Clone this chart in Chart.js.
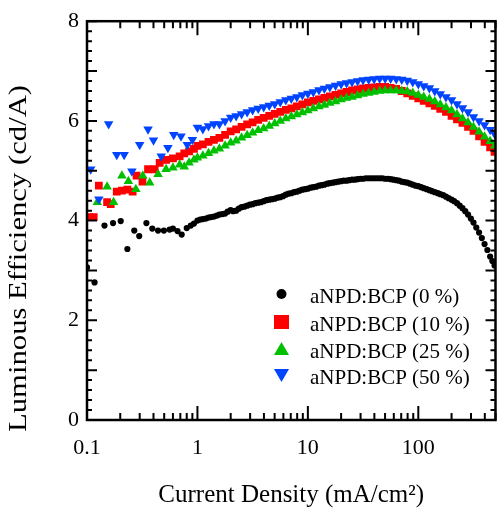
<!DOCTYPE html>
<html>
<head>
<meta charset="utf-8">
<script src="https://cdn.jsdelivr.net/npm/chart.js@4.4.0/dist/chart.umd.min.js"></script>
<style>
  html, body { margin: 0; padding: 0; background: #fff; }
  #wrap { width: 501px; height: 510px; }
</style>
</head>
<body>
<div id="wrap"><canvas id="grafico" width="501" height="510"></canvas></div>
<script>
// series labels and tick labels
const seriesLabels = ['aNPD:BCP (0 %)', 'aNPD:BCP (10 %)', 'aNPD:BCP (25 %)', 'aNPD:BCP (50 %)'];
const xTickValues = [0.1, 1, 10, 100];
const xTickLabels = ['0.1', '1', '10', '100'];
const yTickValues = [0, 2, 4, 6, 8];
const xTitle = 'Current Density (mA/cm²)';
const yTitle = 'Luminous Efficiency (cd/A)';

// current density (mA/cm2) shared by the dense part of every curve
const xDense = [
  1.0, 1.12, 1.26, 1.41, 1.58,
  1.78, 2.0, 2.24, 2.51, 2.82,
  3.16, 3.55, 3.98, 4.47, 5.01,
  5.62, 6.31, 7.08, 7.94, 8.91,
  10, 11.2, 12.6, 14.1, 15.8,
  17.8, 20, 22.4, 25.1, 28.2,
  31.6, 35.5, 39.8, 44.7, 50.1,
  56.2, 63.1, 70.8, 79.4, 89.1,
  100, 112, 126, 141, 158,
  178, 200, 224, 251, 282,
  316, 355, 398, 447, 490
];

// 0 %
const blackLowX = [0.1, 0.117, 0.144, 0.172, 0.202, 0.232, 0.268, 0.297, 0.345, 0.39, 0.44, 0.497, 0.56, 0.6, 0.66, 0.72, 0.80, 0.87, 0.93];
const blackLowY = [3.06, 2.76, 3.90, 3.95, 3.99, 3.43, 3.80, 3.69, 3.95, 3.84, 3.80, 3.80, 3.82, 3.84, 3.79, 3.72, 3.85, 3.90, 3.94];
const blackY = [
  4.00, 4.03, 4.06, 4.08, 4.12,
  4.14, 4.21, 4.20, 4.27, 4.30,
  4.33, 4.36, 4.39, 4.42, 4.44,
  4.47, 4.52, 4.55, 4.58, 4.62,
  4.64, 4.67, 4.70, 4.72, 4.75,
  4.77, 4.79, 4.80, 4.82, 4.83,
  4.84, 4.85, 4.85, 4.85, 4.84,
  4.83, 4.81, 4.78, 4.76, 4.72,
  4.69, 4.65, 4.61, 4.57, 4.53,
  4.48, 4.42, 4.35, 4.25, 4.12,
  3.96, 3.76, 3.53, 3.28, 3.10
];
// the 0 % curve is sampled twice as densely, these sit between the xDense points
const blackMidX = [
  1.06, 1.19, 1.33, 1.50, 1.68,
  1.88, 2.11, 2.37, 2.66, 2.99,
  3.35, 3.76, 4.22, 4.73, 5.31,
  5.96, 6.68, 7.50, 8.41, 9.44,
  10.6, 11.9, 13.3, 15.0, 16.8,
  18.8, 21.1, 23.7, 26.6, 29.9,
  33.5, 37.6, 42.2, 47.3, 53.1,
  59.6, 66.8, 75.0, 84.1, 94.4,
  106, 119, 133, 150, 168,
  188, 211, 237, 266, 299,
  335, 376, 422, 468
];
const blackMidY = [
  4.02, 4.04, 4.07, 4.10, 4.13,
  4.18, 4.19, 4.24, 4.28, 4.32,
  4.35, 4.37, 4.41, 4.43, 4.46,
  4.49, 4.54, 4.57, 4.60, 4.63,
  4.66, 4.68, 4.71, 4.74, 4.76,
  4.78, 4.80, 4.81, 4.82, 4.84,
  4.85, 4.85, 4.85, 4.85, 4.84,
  4.82, 4.80, 4.77, 4.74, 4.70,
  4.67, 4.63, 4.59, 4.55, 4.51,
  4.45, 4.39, 4.30, 4.19, 4.04,
  3.86, 3.65, 3.41, 3.19
];

// 10 %
const redLowX = [0.105, 0.115, 0.128, 0.152, 0.164, 0.186, 0.207, 0.232, 0.259, 0.281, 0.318, 0.357, 0.41, 0.455, 0.52, 0.6, 0.69, 0.76, 0.84, 0.93];
const redLowY = [4.07, 4.07, 4.70, 4.37, 4.33, 4.58, 4.60, 4.62, 4.58, 4.90, 4.78, 5.03, 5.03, 5.16, 5.22, 5.25, 5.29, 5.35, 5.39, 5.44];
const redY = [
  5.50, 5.53, 5.58, 5.62, 5.66,
  5.72, 5.79, 5.83, 5.88, 5.93,
  5.97, 6.02, 6.06, 6.10, 6.14,
  6.18, 6.22, 6.25, 6.29, 6.33,
  6.37, 6.40, 6.43, 6.46, 6.49,
  6.52, 6.55, 6.58, 6.61, 6.63,
  6.65, 6.66, 6.67, 6.68, 6.68,
  6.66, 6.64, 6.60, 6.55, 6.50,
  6.45, 6.40, 6.35, 6.30, 6.24,
  6.18, 6.10, 6.03, 5.96, 5.88,
  5.80, 5.69, 5.58, 5.47, 5.38
];

// 25 %
const greenLowX = [0.124, 0.152, 0.174, 0.207, 0.237, 0.277, 0.32, 0.37, 0.44, 0.52, 0.6, 0.69, 0.76, 0.84, 0.93];
const greenLowY = [4.37, 4.68, 4.37, 4.90, 4.79, 4.63, 4.90, 4.76, 4.93, 5.03, 5.06, 5.12, 5.08, 5.16, 5.22];
const greenY = [
  5.26, 5.30, 5.35, 5.40, 5.44,
  5.50, 5.56, 5.60, 5.66, 5.71,
  5.76, 5.81, 5.85, 5.90, 5.95,
  6.00, 6.05, 6.09, 6.13, 6.17,
  6.21, 6.25, 6.29, 6.32, 6.36,
  6.39, 6.43, 6.46, 6.48, 6.51,
  6.54, 6.56, 6.58, 6.60, 6.61,
  6.61, 6.61, 6.60, 6.59, 6.56,
  6.52, 6.48, 6.44, 6.39, 6.33,
  6.27, 6.21, 6.13, 6.05, 5.97,
  5.88, 5.78, 5.68, 5.59, 5.50
];

// 50 %
const blueLowX = [0.108, 0.128, 0.157, 0.186, 0.217, 0.255, 0.30, 0.357, 0.40, 0.47, 0.54, 0.61, 0.71, 0.81, 0.90];
const blueLowY = [5.03, 4.43, 5.94, 5.32, 5.32, 4.99, 5.52, 5.83, 5.61, 5.29, 5.46, 5.72, 5.69, 5.52, 5.62];
const blueY = [
  5.87, 5.84, 5.90, 5.94, 5.94,
  6.00, 6.07, 6.10, 6.14, 6.18,
  6.22, 6.25, 6.28, 6.31, 6.34,
  6.38, 6.42, 6.45, 6.48, 6.52,
  6.55, 6.58, 6.62, 6.65, 6.68,
  6.71, 6.74, 6.76, 6.78, 6.80,
  6.82, 6.83, 6.84, 6.85, 6.85,
  6.85, 6.84, 6.83, 6.81, 6.78,
  6.74, 6.70, 6.66, 6.60, 6.54,
  6.48, 6.42, 6.34, 6.26, 6.18,
  6.08, 6.00, 5.92, 5.82, 5.74
];

const fonte = "'Liberation Serif', 'Times New Roman', serif";
Chart.defaults.font.family = fonte;
Chart.defaults.color = '#000';

function pontos(xs, ys) {
    return xs.map((x, i) => ({ x: x, y: ys[i] }));
}

// box round the plot with inward ticks on all four sides
const molduraPlugin = {
    id: 'moldura',
    afterDraw(chart) {
        const { ctx, chartArea: a, scales: { x, y } } = chart;
        ctx.save();
        ctx.strokeStyle = '#000';
        ctx.lineWidth = 2.5;
        ctx.strokeRect(a.left, a.top, a.right - a.left, a.bottom - a.top);

        ctx.lineWidth = 2;
        ctx.beginPath();
        for (let dec = 0.1; dec < 1000; dec *= 10) {
            for (let m = 1; m <= 9; m++) {
                const v = dec * m;
                if (v < 0.1 * 0.999 || v > 500 * 1.001) continue;
                const px = x.getPixelForValue(v);
                const len = (m === 1) ? 14 : 7;
                ctx.moveTo(px, a.bottom); ctx.lineTo(px, a.bottom - len);
                ctx.moveTo(px, a.top); ctx.lineTo(px, a.top + len);
            }
        }
        for (let k = 0; k <= 40; k++) {
            const py = y.getPixelForValue(k * 0.2);
            const len = (k % 5 === 0) ? 10 : 5;
            ctx.moveTo(a.left, py); ctx.lineTo(a.left + len, py);
            ctx.moveTo(a.right, py); ctx.lineTo(a.right - len, py);
        }
        ctx.stroke();
        ctx.restore();
    }
};

// y title: the original is a bit stretched along its length and sits low
const tituloYPlugin = {
    id: 'tituloY',
    afterDraw(chart) {
        const ctx = chart.ctx;
        ctx.save();
        ctx.translate(19, 432);
        ctx.rotate(-Math.PI / 2);
        ctx.scale(1.18, 1);
        ctx.font = '26px ' + fonte;
        ctx.fillStyle = '#000';
        ctx.textAlign = 'left';
        ctx.textBaseline = 'middle';
        ctx.fillText(yTitle, 0, 0);
        ctx.restore();
    }
};

// legend inside the plot, lower right
const legendaPlugin = {
    id: 'legenda',
    afterDraw(chart) {
        const ctx = chart.ctx;
        const mx = 281.5, tx = 310;
        const linhas = [294, 322, 349, 375];
        ctx.save();
        ctx.font = '21px ' + fonte;
        ctx.textAlign = 'left';
        ctx.textBaseline = 'alphabetic';
        chart.data.datasets.forEach((ds, i) => {
            const cy = linhas[i];
            ctx.fillStyle = ds.pointBackgroundColor;
            ctx.beginPath();
            if (i === 0) {
                ctx.arc(mx, cy, 5, 0, Math.PI * 2);
            } else if (i === 1) {
                ctx.rect(mx - 7.5, cy - 7, 15, 14);
            } else if (i === 2) {
                ctx.moveTo(mx, cy - 7); ctx.lineTo(mx + 7.5, cy + 6); ctx.lineTo(mx - 7.5, cy + 6);
            } else {
                ctx.moveTo(mx, cy + 7); ctx.lineTo(mx + 7.5, cy - 6); ctx.lineTo(mx - 7.5, cy - 6);
            }
            ctx.closePath();
            ctx.fill();
            ctx.fillStyle = '#000';
            ctx.fillText(ds.label, tx, cy + 9);
        });
        ctx.restore();
    }
};

new Chart(document.getElementById('grafico'), {
    type: 'scatter',
    data: {
        datasets: [
            {
                label: seriesLabels[0],
                data: pontos(blackLowX.concat(xDense, blackMidX), blackLowY.concat(blackY, blackMidY)),
                pointStyle: 'circle', pointRadius: 3.1,
                pointBackgroundColor: '#000000', pointBorderWidth: 0,
                order: 3
            },
            {
                label: seriesLabels[1],
                data: pontos(redLowX.concat(xDense), redLowY.concat(redY)),
                pointStyle: 'rect', pointRadius: 5.5,
                pointBackgroundColor: '#ff0000', pointBorderWidth: 0,
                order: 2
            },
            {
                label: seriesLabels[2],
                data: pontos(greenLowX.concat(xDense), greenLowY.concat(greenY)),
                pointStyle: 'triangle', pointRadius: 5.5,
                pointBackgroundColor: '#00c000', pointBorderWidth: 0,
                order: 1
            },
            {
                label: seriesLabels[3],
                data: pontos(blueLowX.concat(xDense), blueLowY.concat(blueY)),
                pointStyle: 'triangle', pointRadius: 5.5, pointRotation: 180,
                pointBackgroundColor: '#0044ff', pointBorderWidth: 0,
                order: 0
            }
        ]
    },
    options: {
        responsive: false,
        animation: false,
        devicePixelRatio: 1,
        layout: { padding: { top: 17, right: 1, left: 0, bottom: 0 } },
        plugins: {
            legend: { display: false },
            tooltip: { enabled: false }
        },
        scales: {
            x: {
                type: 'logarithmic',
                position: 'bottom',
                min: 0.1,
                max: 500,
                afterBuildTicks: (s) => { s.ticks = xTickValues.map((v) => ({ value: v })); },
                afterFit: (s) => { s.height = 90; },
                ticks: {
                    autoSkip: false, maxRotation: 0, padding: 15,
                    font: { size: 22 },
                    callback: (v, i) => xTickLabels[i]
                },
                grid: { display: false, drawTicks: false },
                border: { display: false },
                title: {
                    display: true,
                    text: xTitle,
                    font: { size: 25, lineHeight: 1.2 },
                    padding: { top: 0, bottom: 0 }
                }
            },
            y: {
                min: 0,
                max: 8,
                afterBuildTicks: (s) => { s.ticks = yTickValues.map((v) => ({ value: v })); },
                afterFit: (s) => { s.width = 87; },
                ticks: { padding: 8, font: { size: 22 } },
                grid: { display: false, drawTicks: false },
                border: { display: false },
                title: { display: false }
            }
        }
    },
    plugins: [molduraPlugin, tituloYPlugin, legendaPlugin]
});
</script>
</body>
</html>
